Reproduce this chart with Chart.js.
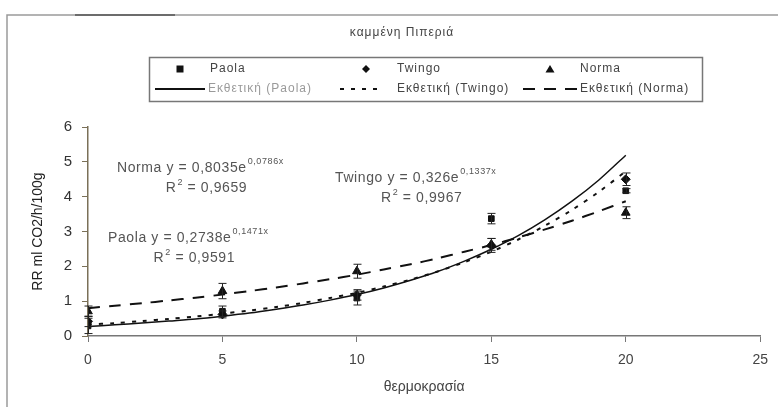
<!DOCTYPE html>
<html>
<head>
<meta charset="utf-8">
<script src="https://cdn.jsdelivr.net/npm/chart.js@4"></script>
<style>
  html, body { margin: 0; padding: 0; background: #fff; }
  #wrap { width: 778px; height: 407px; }
</style>
</head>
<body>
<div id="wrap"><canvas id="chart" width="778" height="407"></canvas></div>
<script>
const FONT = 'Arial, "Liberation Sans", sans-serif';

// temperatures (x) of the measured points
const temps = [0, 5, 10, 15, 20];

// measured respiration rates
const paola = [0.29, 0.71, 1.09, 3.37, 4.17];
const twingo = [0.42, 0.62, 1.18, 2.6, 4.5];
const norma = [0.71, 1.29, 1.86, 2.63, 3.54];

// error bar half-heights
const paolaErr = [0.22, 0.15, 0.2, 0.15, 0.06];
const twingoErr = [0.15, 0.1, 0.15, 0.2, 0.18];
const normaErr = [0.15, 0.22, 0.2, 0.17, 0.17];

// trendline curves, one value per degree
const trendX = [0, 1, 2, 3, 4, 5, 6, 7, 8, 9, 10, 11, 12, 13, 14, 15, 16, 17, 18, 19, 20];
const paolaTrend = [0.27, 0.32, 0.37, 0.43, 0.49, 0.57, 0.66, 0.77, 0.89, 1.03, 1.19,
  1.38, 1.6, 1.85, 2.15, 2.49, 2.88, 3.34, 3.87, 4.48, 5.19];
const twingoTrend = [0.33, 0.37, 0.43, 0.49, 0.56, 0.64, 0.73, 0.83, 0.95, 1.09, 1.24,
  1.42, 1.62, 1.85, 2.12, 2.42, 2.77, 3.17, 3.62, 4.14, 4.73];
const normaTrend = [0.8, 0.87, 0.94, 1.02, 1.1, 1.19, 1.29, 1.39, 1.51, 1.63, 1.76,
  1.91, 2.06, 2.23, 2.42, 2.61, 2.83, 3.06, 3.31, 3.58, 3.87];

const xTicks = [0, 5, 10, 15, 20, 25];
const yTicks = [0, 1, 2, 3, 4, 5, 6];

function pts(xs, ys) {
  return xs.map(function (x, i) { return { x: x, y: ys[i] }; });
}

const errorBars = {
  id: "errorBars",
  afterDatasetsDraw(chart) {
    const ctx = chart.ctx;
    const xs = chart.scales.x, ys = chart.scales.y;
    ctx.save();
    ctx.strokeStyle = "#222";
    ctx.lineWidth = 1;
    chart.data.datasets.forEach(function (ds) {
      if (!ds.errors) return;
      ds.data.forEach(function (p, i) {
        const e = ds.errors[i];
        const px = Math.round(xs.getPixelForValue(p.x)) + 0.5;
        const top = ys.getPixelForValue(p.y + e);
        const bot = ys.getPixelForValue(p.y - e);
        ctx.beginPath();
        ctx.moveTo(px, top); ctx.lineTo(px, bot);
        ctx.moveTo(px - 4, top); ctx.lineTo(px + 4, top);
        ctx.moveTo(px - 4, bot); ctx.lineTo(px + 4, bot);
        ctx.stroke();
      });
    });
    ctx.restore();
  }
};

function drawEq(ctx, name, coef, exp, r2, x, y) {
  ctx.font = "14px " + FONT;
  ctx.textBaseline = "middle";
  ctx.textAlign = "left";
  const main = name + " y = " + coef + "e";
  ctx.fillText(main, x, y);
  const w = ctx.measureText(main).width;
  ctx.font = "9px " + FONT;
  ctx.fillText(exp + "x", x + w + 1, y - 6);
  const expW = ctx.measureText(exp + "x").width;
  const total = w + 1 + expW;
  // R² line, centred under the equation
  ctx.font = "14px " + FONT;
  const rw = ctx.measureText("R").width;
  const tail = " = " + r2;
  const tw = ctx.measureText(tail).width;
  ctx.font = "9px " + FONT;
  const sw = ctx.measureText("2").width;
  const lineW = rw + sw + 1 + tw;
  const sx = x + total / 2 - lineW / 2 + 6;
  const ry = y + 20;
  ctx.font = "14px " + FONT;
  ctx.fillText("R", sx, ry);
  ctx.font = "9px " + FONT;
  ctx.fillText("2", sx + rw + 1, ry - 5);
  ctx.font = "14px " + FONT;
  ctx.fillText(tail, sx + rw + sw + 1, ry);
}

const extras = {
  id: "extras",
  afterDraw(chart) {
    const ctx = chart.ctx;
    ctx.save();
    ctx.letterSpacing = "0.5px";

    // outer frame
    ctx.strokeStyle = "#9a9a9a";
    ctx.lineWidth = 1.5;
    ctx.beginPath();
    ctx.moveTo(7, 407); ctx.lineTo(7, 15); ctx.lineTo(778, 15);
    ctx.stroke();
    ctx.strokeStyle = "#555";
    ctx.beginPath();
    ctx.moveTo(75, 15); ctx.lineTo(175, 15);
    ctx.stroke();

    // title
    ctx.fillStyle = "#444";
    ctx.font = "12px " + FONT;
    ctx.letterSpacing = "1px";
    ctx.textAlign = "center";
    ctx.textBaseline = "middle";
    ctx.fillText("καμμένη Πιπεριά", 402, 33);

    // legend box
    ctx.strokeStyle = "#777";
    ctx.lineWidth = 1.5;
    ctx.strokeRect(149.5, 57.5, 553, 44);

    const ds = chart.data.datasets;
    const cols = [
      { mark: 180, text: 210, line: [155, 205] },
      { mark: 366, text: 397, line: [340, 382] },
      { mark: 550, text: 580, line: [523, 577] }
    ];
    ctx.textAlign = "left";
    ctx.font = "12px " + FONT;
    for (let i = 0; i < 3; i++) {
      const d = ds[i];
      const c = cols[i];
      // marker
      ctx.fillStyle = "#111";
      ctx.beginPath();
      if (d.pointStyle === "rect") {
        ctx.rect(c.mark - 3.5, 69 - 3.5, 7, 7);
      } else if (d.pointStyle === "rectRot") {
        ctx.moveTo(c.mark, 65); ctx.lineTo(c.mark + 4, 69); ctx.lineTo(c.mark, 73); ctx.lineTo(c.mark - 4, 69);
      } else {
        ctx.moveTo(c.mark, 65); ctx.lineTo(c.mark + 4.5, 72.5); ctx.lineTo(c.mark - 4.5, 72.5);
      }
      ctx.closePath();
      ctx.fill();
      ctx.fillStyle = "#444";
      ctx.fillText(d.label, c.text, 69);

      // trend line sample
      const t = ds[i + 3];
      ctx.strokeStyle = "#111";
      ctx.lineWidth = 2;
      ctx.setLineDash(t.borderDash || []);
      ctx.beginPath();
      ctx.moveTo(c.line[0], 89); ctx.lineTo(c.line[1], 89);
      ctx.stroke();
      ctx.setLineDash([]);
      ctx.fillStyle = i === 0 ? "#9a9a9a" : "#444";
      ctx.fillText(t.label, i === 0 ? 208 : c.text, 89);
    }

    // trendline equations
    ctx.letterSpacing = "0.6px";
    ctx.fillStyle = "#555";
    drawEq(ctx, "Norma", "0,8035", "0,0786", "0,9659", 117, 168);
    drawEq(ctx, "Paola", "0,2738", "0,1471", "0,9591", 108, 238);
    drawEq(ctx, "Twingo", "0,326", "0,1337", "0,9967", 335, 178);
    ctx.restore();
  }
};

const ctx = document.getElementById("chart").getContext("2d");
const chart = new Chart(ctx, {
  type: "scatter",
  data: {
    datasets: [
      {
        label: "Paola",
        data: pts(temps, paola),
        errors: paolaErr,
        pointStyle: "rect",
        pointRadius: 4,
        backgroundColor: "#111",
        borderColor: "#111",
      },
      {
        label: "Twingo",
        data: pts(temps, twingo),
        errors: twingoErr,
        pointStyle: "rectRot",
        pointRadius: 4.5,
        backgroundColor: "#111",
        borderColor: "#111",
      },
      {
        label: "Norma",
        data: pts(temps, norma),
        errors: normaErr,
        pointStyle: "triangle",
        pointRadius: 5,
        backgroundColor: "#111",
        borderColor: "#111",
      },
      {
        label: "Εκθετική (Paola)",
        data: pts(trendX, paolaTrend),
        showLine: true,
        pointRadius: 0,
        borderColor: "#111",
        borderWidth: 1.5,
        tension: 0.3,
      },
      {
        label: "Εκθετική (Twingo)",
        data: pts(trendX, twingoTrend),
        showLine: true,
        pointRadius: 0,
        borderColor: "#111",
        borderWidth: 2,
        borderDash: [4, 7],
        tension: 0.3,
      },
      {
        label: "Εκθετική (Norma)",
        data: pts(trendX, normaTrend),
        showLine: true,
        pointRadius: 0,
        borderColor: "#111",
        borderWidth: 2,
        borderDash: [12, 9],
        tension: 0.3,
      },
    ],
  },
  options: {
    responsive: false,
    animation: false,
    layout: {
      padding: { top: 127, right: 10, bottom: 7, left: 26 },
    },
    plugins: {
      legend: { display: false },
      title: { display: false },
      tooltip: { enabled: false },
    },
    scales: {
      x: {
        type: "linear",
        min: 0,
        max: 25,
        afterBuildTicks: function (scale) {
          scale.ticks = xTicks.map(function (v) { return { value: v }; });
        },
        afterFit: function (scale) { scale.height = 64; },
        title: {
          display: true,
          text: "θερμοκρασία",
          color: "#444",
          font: { family: FONT, size: 14 },
        },
        grid: {
          drawOnChartArea: false,
          tickLength: 6,
          color: "#777",
        },
        border: { color: "#777", width: 1.5 },
        ticks: {
          color: "#444",
          padding: 10,
          font: { family: FONT, size: 14 },
        },
      },
      y: {
        min: 0,
        max: 6,
        afterBuildTicks: function (scale) {
          scale.ticks = yTicks.map(function (v) { return { value: v }; });
        },
        afterFit: function (scale) { scale.width = 62; },
        title: {
          display: true,
          text: "RR ml CO2/h/100g",
          color: "#222",
          font: { family: FONT, size: 14 },
        },
        grid: {
          drawOnChartArea: false,
          tickLength: 6,
          color: "#7a7058",
        },
        border: { color: "#7a7058", width: 1.5 },
        ticks: {
          color: "#333",
          padding: 10,
          font: { family: FONT, size: 15 },
        },
      },
    },
  },
  plugins: [errorBars, extras],
});
</script>
</body>
</html>
